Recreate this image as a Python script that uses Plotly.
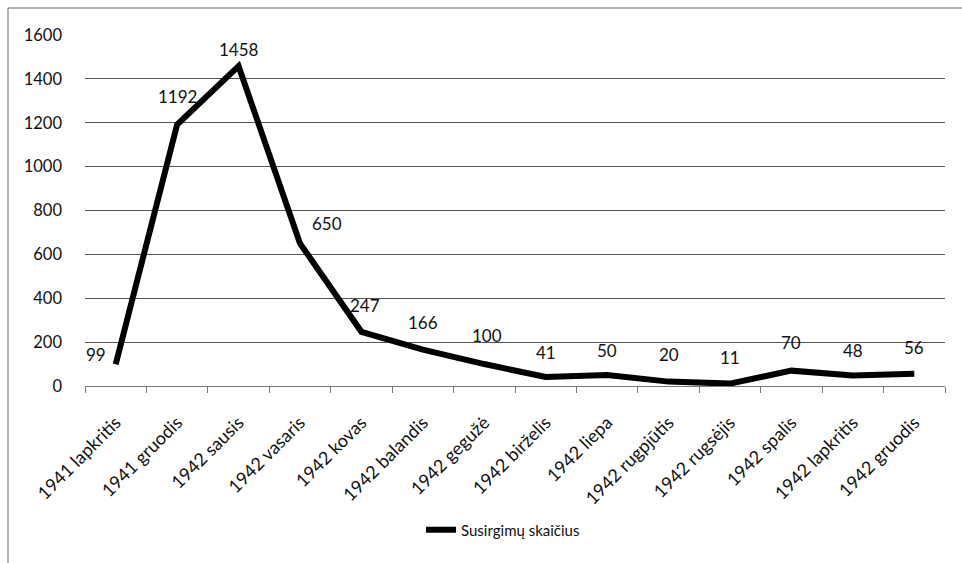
import plotly.graph_objects as go

categories = ["1941 lapkritis", "1941 gruodis", "1942 sausis", "1942 vasaris", "1942 kovas",
              "1942 balandis", "1942 gegužė", "1942 birželis", "1942 liepa", "1942 rugpjūtis",
              "1942 rugsėjis", "1942 spalis", "1942 lapkritis", "1942 gruodis"]
values = [99, 1192, 1458, 650, 247, 166, 100, 41, 50, 20, 11, 70, 48, 56]
series_name = "Susirgimų skaičius"
y_ticks = [0, 200, 400, 600, 800, 1000, 1200, 1400, 1600]

# label offsets (pixels) for data labels
label_dx = [-20, 0, 0, 27, 4, 0, 3, 0, 0, 0, 0, 0, 0, 0]
label_dy = [10, 28, 17, 20, 26, 27, 29, 25, 25, 27, 26, 28, 25, 26]

FONT = "Lato"
W, H = 962, 563
L, R, T, B = 85, 17, 35, 177

fig = go.Figure()
fig.add_trace(go.Scatter(
    x=categories, y=values, mode="lines", name=series_name,
    line=dict(color="black", width=6), showlegend=True,
))

for c, v, dx, dy in zip(categories, values, label_dx, label_dy):
    fig.add_annotation(x=c, y=v, text=str(v), showarrow=False,
                       xshift=dx, yshift=dy,
                       font=dict(family=FONT, size=17, color="#111"))

pw = W - L - R
ph = H - T - B
def px_x(p):
    return (p - L) / pw
def px_y(p):
    return (H - B - p) / ph

fig.add_shape(type="rect", xref="paper", yref="paper",
              x0=px_x(8), x1=px_x(975), y0=px_y(8), y1=px_y(580),
              line=dict(color="#666", width=1), fillcolor="rgba(0,0,0,0)", layer="below")

fig.update_layout(
    width=W, height=H,
    margin=dict(l=L, r=R, t=T, b=B),
    paper_bgcolor="white", plot_bgcolor="white",
    font=dict(family=FONT, size=15, color="#111"),
    showlegend=True,
    legend=dict(orientation="h", x=px_x(503), xanchor="center",
                y=px_y(530), yanchor="middle",
                font=dict(family=FONT, size=15, color="#111")),
    xaxis=dict(
        type="category", showgrid=False, showline=True, linecolor="#777", linewidth=1,
        ticks="outside", tickson="boundaries", ticklen=6, tickcolor="#777",
        tickangle=-45, tickfont=dict(family=FONT, size=18, color="#111"),
        ticklabelstandoff=18,
        range=[-0.5, len(categories) - 0.5], automargin=False,
    ),
    yaxis=dict(
        range=[0, 1600], tickvals=y_ticks, showgrid=True, gridcolor="#555", gridwidth=1,
        zeroline=False, showline=False, ticks="", ticklabelstandoff=22, automargin=False,
        tickfont=dict(family=FONT, size=16.5, color="#111"),
    ),
)

fig.write_html("out.html", config={"displayModeBar": False},
               post_script="document.body.style.margin='0';document.body.style.overflow='hidden';")
